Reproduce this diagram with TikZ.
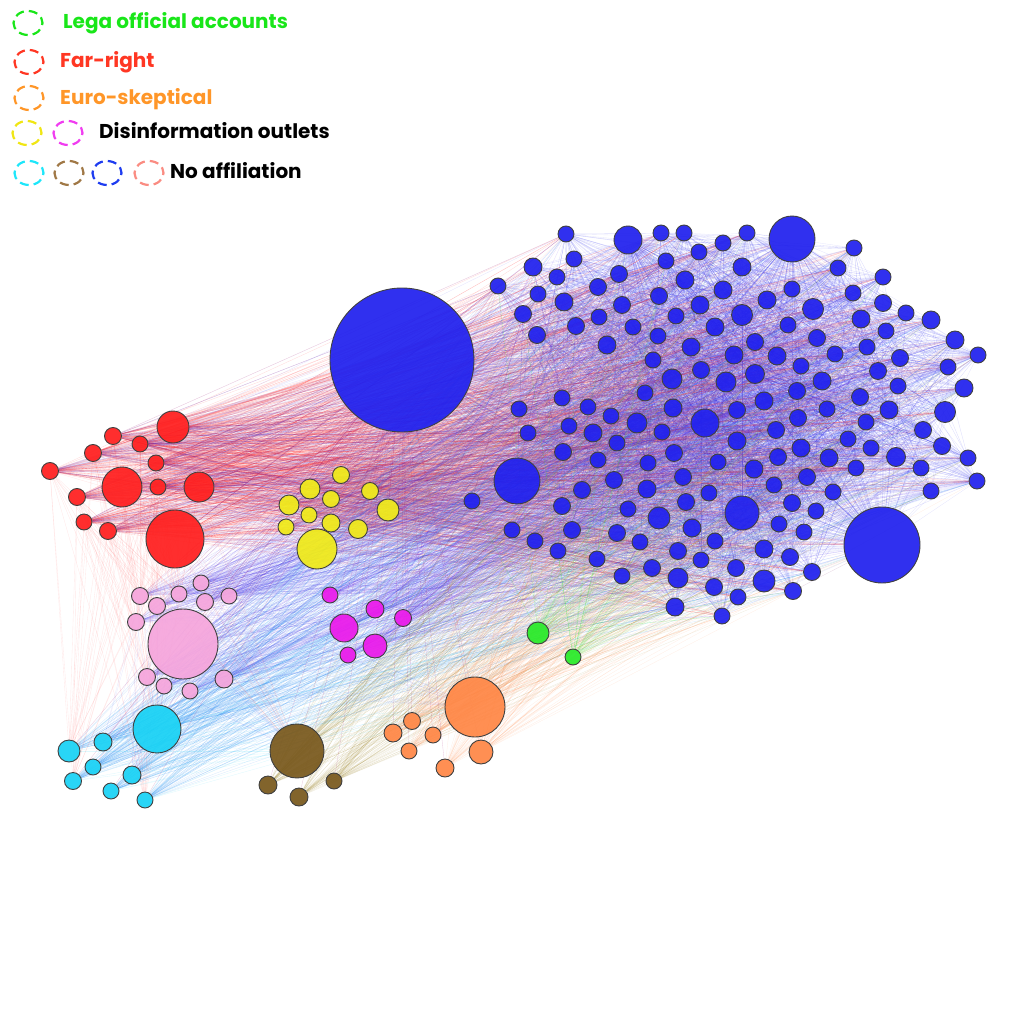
\documentclass[tikz,border=0pt]{standalone}
\usepackage{fontspec}
\setmainfont{Poppins}
\pgfdeclarelayer{bg}
\pgfsetlayers{bg,main}
\definecolor{cblue}{RGB}{32,32,238}
\definecolor{eblue}{RGB}{50,50,235}
\definecolor{cred}{RGB}{255,30,30}
\definecolor{cyel}{RGB}{240,235,25}
\definecolor{cpink}{RGB}{245,165,220}
\definecolor{cmag}{RGB}{235,25,235}
\definecolor{ccyan}{RGB}{25,210,245}
\definecolor{cbrown}{RGB}{120,88,28}
\definecolor{corange}{RGB}{255,135,70}
\definecolor{cgreen}{RGB}{40,235,40}
\definecolor{lgreen}{RGB}{25,230,25}
\definecolor{lred}{RGB}{255,55,35}
\definecolor{lorange}{RGB}{255,150,40}
\definecolor{lyel}{RGB}{240,230,20}
\definecolor{lmag}{RGB}{240,60,240}
\definecolor{lcyan}{RGB}{30,230,250}
\definecolor{lbrown}{RGB}{160,120,70}
\definecolor{lblue}{RGB}{30,60,240}
\definecolor{lsalmon}{RGB}{250,140,130}
\tikzset{
  nd/.style={circle, inner sep=0pt, draw=black!75, line width=0.9pt, fill opacity=0.93},
  ed/.style={line width=0.35pt, draw opacity=0.15},
  legc/.style={ellipse, draw, dash pattern=on 9pt off 5pt, dash phase=3pt, line width=2.2pt, minimum width=29pt, minimum height=24pt, inner sep=0pt},
  legt/.style={anchor=base west, inner sep=0pt, font=\fontsize{20}{23}\selectfont\bfseries}
}
\usetikzlibrary{shapes.geometric}
\newcommand\mylinks[4]{%
  \foreach \i in {1,...,#2}{\foreach \k in {1,...,#3}{%
    \pgfmathrandominteger{\j}{1}{154}\draw[ed,#4] (#1\i) -- (b\j);}}}
\begin{document}
\begin{tikzpicture}[x=1pt,y=-1pt]
\useasboundingbox (0,0) rectangle (1024,1024);
\pgfmathsetseed{11}
% legend
\node[legc, draw=lgreen] (lg1) at (28,23) {};
\node[legt, text=lgreen] (lt1) at (63,29) {Lega official accounts};
\node[legc, draw=lred] (lg2) at (29,62) {};
\node[legt, text=lred] (lt2) at (60,68) {Far-right};
\node[legc, draw=lorange] (lg3) at (29,98) {};
\node[legt, text=lorange] (lt3) at (60,105) {Euro-skeptical};
\node[legc, draw=lyel] (lg4) at (27,133) {};
\node[legc, draw=lmag] (lg5) at (68,133) {};
\node[legt, text=black] (lt4) at (99,139) {Disinformation outlets};
\node[legc, draw=lcyan] (lg6) at (29,173) {};
\node[legc, draw=lbrown] (lg7) at (69,173) {};
\node[legc, draw=lblue] (lg8) at (107,173) {};
\node[legc, draw=lsalmon] (lg9) at (149,173) {};
\node[legt, text=black] (lt5) at (170,179) {No affiliation};
% nodes
\node[nd, fill=cblue, minimum size=144pt] (H) at (402,360) {};
\foreach \x/\y/\r [count=\i] in {
566/234/8, 628/240/14, 661/233/8, 684/233/8, 747/233/8, 792/239/23, 723/243/8, 854/248/8, 574/259/8, 533/267/9,
699/252/8, 666/261/8, 742/267/9, 838/268/8, 883/277/8, 557/277/8, 498/286/8, 619/274/8.5, 685/280/9, 598/287/8.5,
538/294/8, 564/302/9, 622/305/8.5, 659/296/8.5, 723/290/9, 792/289/8, 767/300/9, 700/305/9, 813/309/10.5, 853/293/8,
883/303/8.5, 523/314/8.5, 599/317/8, 676/316/8, 742/315/10.5, 861/319/9, 906/313/8, 931/320/9, 537/335/8.5, 576/326/8.5,
633/327/8, 715/327/9, 788/325/8, 886/331/8, 607/345/9, 658/336/8, 817/338/8.5, 755/342/8.5, 691/347/9, 734/355/9,
777/356/9, 835/354/8, 867/347/8, 955/340/9, 978/355/8, 900/358/8.5, 948/367/8, 653/360/8, 701/370/8.5, 801/366/8,
878/371/8.5, 672/379/10, 726/382/10, 755/374/9.5, 822/381/9, 898/386/8, 964/388/9, 645/393/8, 797/391/8.5, 860/397/8.5,
562/398/8, 588/407/8, 519/409/8, 673/408/9, 764/401/9, 827/409/8, 889/410/9, 945/412/10.5, 611/416/8, 637/423/10,
705/423/14, 737/410/8.5, 798/418/8.5, 866/422/8, 569/426/8, 528/433/8, 593/433/9, 662/432/8, 776/430/8.5, 923/430/8.5,
617/443/8, 737/441/9, 848/439/8, 563/452/8.5, 674/453/8.5, 801/448/9, 871/448/8, 896/457/9.5, 942/446/8.5, 598/460/8,
648/463/8, 718/462/8, 778/457/8.5, 829/458/9, 517/481/23, 754/469/9, 856/468/8, 921/468/8, 968/458/8, 614/480/8.5,
683/477/8.5, 807/477/8.5, 582/490/8.5, 647/489/9, 709/493/8, 774/485/8, 833/492/8, 931/491/8, 977/481/8, 562/506/8.5,
628/509/8, 686/502/8.5, 792/503/8.5, 816/511/8, 742/513/17, 659/518/11, 512/530/8, 572/530/8.5, 617/533/8.5, 692/528/9,
779/524/8, 804/532/8, 535/541/8, 558/551/8, 640/542/8, 715/541/8, 882/545/38, 597/559/8, 678/551/8.5, 701/560/8,
764/549/9, 790/557/8.5, 622/576/8, 652/568/8.5, 678/578/10, 736/568/8.5, 764/581/11, 812/572/8.5, 714/587/8.5, 738/597/8,
793/591/8.5, 675/607/9, 722/616/8, 472/501/8}
  \node[nd, fill=cblue, minimum size=2*\r pt] (b\i) at (\x,\y) {};
\foreach \x/\y/\r [count=\i] in {173/427/16, 113/436/8.5, 140/444/8, 93/453/8.5, 156/463/8, 50/471/8.5, 122/487/20, 158/487/8, 199/487/15, 77/497/8.5, 84/522/8, 108/531/8.5, 175/539/29}
  \node[nd, fill=cred, minimum size=2*\r pt] (r\i) at (\x,\y) {};
\foreach \x/\y/\r [count=\i] in {341/475/8.5, 310/489/10, 289/505/10, 331/499/8.5, 370/491/8.5, 388/510/11, 309/515/8, 286/527/8, 331/523/9, 358/529/9.5, 317/549/20}
  \node[nd, fill=cyel, minimum size=2*\r pt] (y\i) at (\x,\y) {};
\foreach \x/\y/\r [count=\i] in {140/596/8.5, 157/606/8.5, 179/594/8, 201/583/8, 205/602/8.5, 229/596/8, 136/622/8.5, 183/644/35, 147/677/8.5, 164/686/8, 190/691/8, 224/679/9}
  \node[nd, fill=cpink, minimum size=2*\r pt] (p\i) at (\x,\y) {};
\foreach \x/\y/\r [count=\i] in {330/595/8, 375/609/9, 403/618/8.5, 344/628/14, 375/646/12, 348/655/8}
  \node[nd, fill=cmag, minimum size=2*\r pt] (m\i) at (\x,\y) {};
\foreach \x/\y/\r [count=\i] in {157/729/24, 69/751/11, 103/742/9, 93/767/8, 73/781/8.5, 111/791/8, 132/775/9, 145/800/8}
  \node[nd, fill=ccyan, minimum size=2*\r pt] (c\i) at (\x,\y) {};
\foreach \x/\y/\r [count=\i] in {297/751/27, 268/785/9, 299/797/9, 334/781/8}
  \node[nd, fill=cbrown, minimum size=2*\r pt] (w\i) at (\x,\y) {};
\foreach \x/\y/\r [count=\i] in {475/707/30, 481/752/12, 412/721/8.5, 393/733/9, 433/735/8, 409/751/8, 445/768/9}
  \node[nd, fill=corange, minimum size=2*\r pt] (o\i) at (\x,\y) {};
\foreach \x/\y/\r [count=\i] in {538/633/11, 573/657/8}
  \node[nd, fill=cgreen, minimum size=2*\r pt] (g\i) at (\x,\y) {};
% edges
\begin{pgfonlayer}{bg}
\foreach \i in {1,...,154}{%
  \draw[ed, draw=eblue, draw opacity=0.2] (H) -- (b\i);
  \foreach \h in {2,6,81,105,125,137}{\ifnum\h=\i\else\draw[ed,draw=eblue,draw opacity=0.12] (b\h) -- (b\i);\fi}
  \foreach \k in {1,...,16}{\pgfmathrandominteger{\j}{1}{154}\ifnum\j=\i\else\draw[ed, draw=eblue, draw opacity=0.17] (b\i) -- (b\j);\fi}}
\mylinks{r}{13}{60}{draw=cred, draw opacity=0.16}
\mylinks{r}{13}{25}{draw=eblue, draw opacity=0.13}
\mylinks{y}{11}{25}{draw=corange, draw opacity=0.13}
\mylinks{y}{11}{20}{draw=violet, draw opacity=0.15}
\mylinks{p}{12}{35}{draw=eblue!80!cpink, draw opacity=0.17}
\mylinks{m}{6}{35}{draw=eblue!70!cmag, draw opacity=0.17}
\mylinks{c}{8}{35}{draw=ccyan!55!eblue, draw opacity=0.17}
\mylinks{w}{4}{40}{draw=cbrown!80!yellow, draw opacity=0.14}
\mylinks{o}{7}{35}{draw=corange, draw opacity=0.13}
\mylinks{g}{2}{50}{draw=cgreen, draw opacity=0.14}
\foreach \n/\m in {r/13,y/11,p/12,m/6,c/8,w/4,o/7}{\foreach \i in {1,...,\m}{\draw[ed, draw=red!60!blue, draw opacity=0.2] (H) -- (\n\i);}}
\foreach \i in {1,...,13}{\foreach \t in {p1,p3,p7,p8,p9,c1,c2,c5,c8,w1,y3,y11,y2,y6}{\draw[ed, draw=cred, draw opacity=0.1] (r\i) -- (\t);}}
\foreach \i in {1,...,12}{\foreach \t in {c1,c3,c7,w1,m4,y11,o1}{\draw[ed, draw=eblue, draw opacity=0.1] (p\i) -- (\t);}}
\foreach \i in {1,...,8}{\foreach \t in {w1,o1,m4,g1,y11}{\draw[ed, draw=ccyan, draw opacity=0.14] (c\i) -- (\t);}}
\end{pgfonlayer}
\end{tikzpicture}
\end{document}
